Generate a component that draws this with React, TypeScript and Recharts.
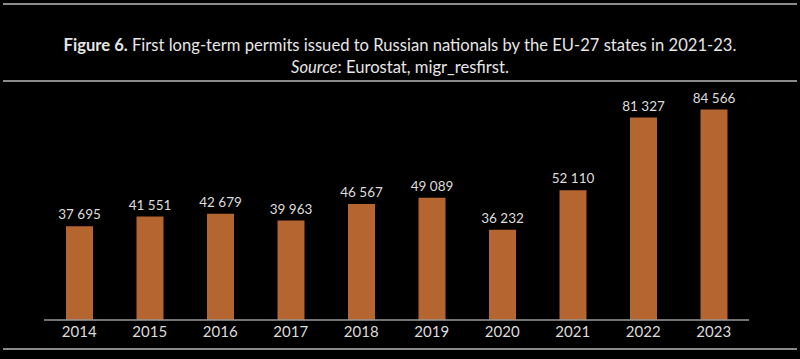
import React from 'react';
import { Bar, BarChart, LabelList, XAxis, YAxis } from 'recharts';

const years = ['2014', '2015', '2016', '2017', '2018', '2019', '2020', '2021', '2022', '2023'];
const permits = [37695, 41551, 42679, 39963, 46567, 49089, 36232, 52110, 81327, 84566];

const data = years.map((year, i) => ({ year, permits: permits[i] }));

// thousands separated by a non-breaking space so the label never wraps
const fmt = (v: number) => String(v).replace(/\B(?=(\d{3})+(?!\d))/g, '\u00A0');

const font = 'Lato, "Open Sans", sans-serif';

const Rule = ({ top }: { top: number }) => (
    <div style={{ position: 'absolute', left: 3, right: 3, top, height: 2, background: '#8a8a8a' }} />
);

const App: React.FC = () => {
    return (
        <div
            style={{
                position: 'absolute',
                left: 0,
                top: 0,
                width: 800,
                height: 359,
                background: '#000',
                fontFamily: font,
                overflow: 'hidden',
            }}
        >
            <Rule top={3} />
            <Rule top={80} />
            <Rule top={348} />
            <div
                style={{
                    position: 'absolute',
                    left: 0,
                    width: 800,
                    top: 34,
                    textAlign: 'center',
                    color: '#e6e6e6',
                    fontSize: 16.6,
                    lineHeight: '22px',
                }}
            >
                <div>
                    <b>Figure 6.</b> First long-term permits issued to Russian nationals by the EU-27 states in 2021-23.
                </div>
                <div>
                    <i>Source</i>: Eurostat, migr_resfirst.
                </div>
            </div>
            <div style={{ position: 'absolute', left: 0, top: 0 }}>
                <BarChart width={800} height={359} data={data} margin={{ top: 96, right: 51, bottom: 9, left: 44 }}>
                    <XAxis
                        dataKey="year"
                        height={30}
                        axisLine={{ stroke: '#9a9a9a', strokeWidth: 1.5 }}
                        tickLine={false}
                        tickSize={4}
                        tick={{ fill: '#dcdcdc', fontSize: 15, fontFamily: font }}
                    />
                    <YAxis hide domain={[0, 90000]} />
                    <Bar dataKey="permits" fill="#B5652F" barSize={27} isAnimationActive={false}>
                        <LabelList
                            dataKey="permits"
                            position="top"
                            offset={7}
                            formatter={(v: any) => fmt(Number(v))}
                            style={{ fill: '#dcdcdc', fontSize: 13.5, fontFamily: font }}
                        />
                    </Bar>
                </BarChart>
            </div>
        </div>
    );
};

export default App;
